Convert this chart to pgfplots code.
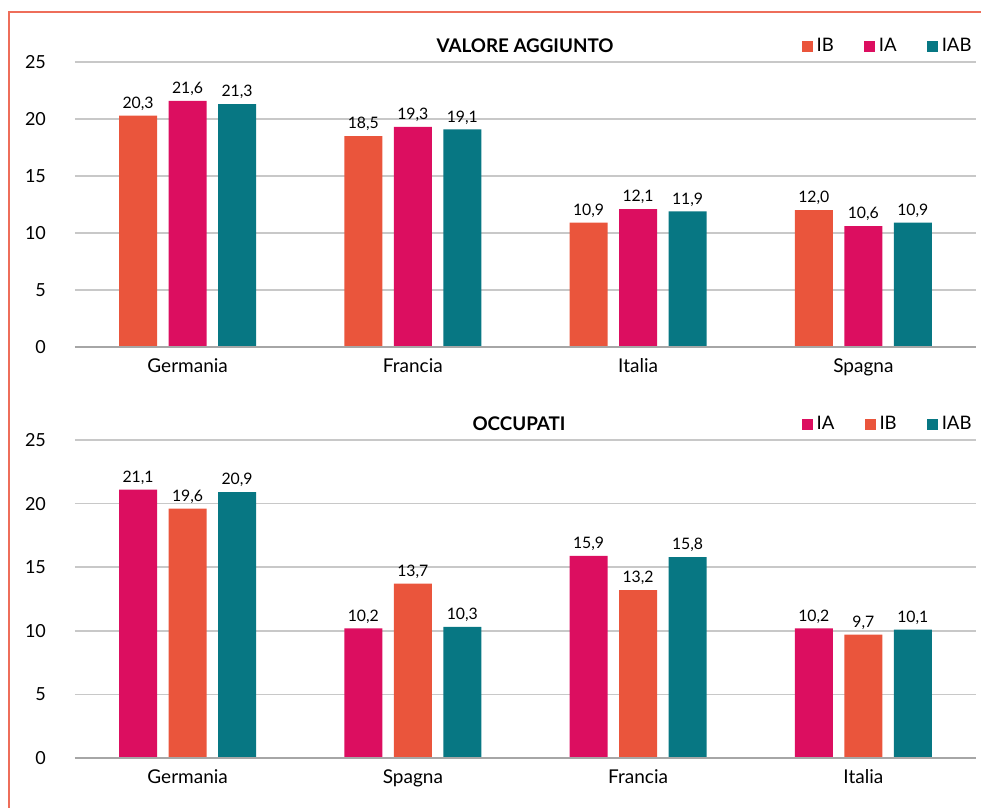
\documentclass[border=0pt]{standalone}
\usepackage{fontspec}
\setmainfont{Lato}
\usepackage{pgfplots}
\pgfplotsset{compat=1.18}
\definecolor{cIB}{RGB}{234,85,60}
\definecolor{cIA}{RGB}{220,14,96}
\definecolor{cIAB}{RGB}{7,119,131}
\definecolor{brd}{RGB}{238,110,90}
\definecolor{gridc}{RGB}{200,200,200}
\definecolor{zeroc}{RGB}{166,166,166}
\pgfplotsset{
  mybars/.style={
    scale only axis, width=450.5pt,
    xmin=-0.5, xmax=3.5, ymin=0, ymax=25,
    ytick={0,5,...,25},
    xtick={0,1,2,3},
    ybar=5.75pt, bar width=19pt,
    axis line style={draw=none},
    tick style={draw=none},
    ymajorgrids, grid style={color=gridc, line width=0.75pt},
    /pgf/number format/assume math mode=true,
    yticklabel style={font=\fontsize{9}{10}\selectfont, anchor=east, xshift=-11pt},
    xticklabel style={font=\fontsize{9.5}{10}\selectfont, yshift=2pt},
    nodes near coords={\pgfmathprintnumber[fixed,fixed zerofill,precision=1,use comma,assume math mode=true]{\pgfplotspointmeta}},
    nodes near coords style={font=\fontsize{7.9}{9}\selectfont, color=black, yshift=-1pt},
    clip=false,
    legend columns=3,
    legend image code/.code={\fill[##1] (0pt,-2.75pt) rectangle (5.5pt,2.75pt);},
    legend style={draw=none, fill=none, font=\fontsize{9.3}{10}\selectfont,
      anchor=east, inner sep=0pt,
      /tikz/every even column/.append style={column sep=13pt},
      nodes={inner sep=2pt}},
  }
}
\begin{document}
\begin{tikzpicture}
\useasboundingbox (0,0) rectangle (490.5pt,-404pt);
\draw[brd, line width=0.8pt] (4.5pt,-404pt) -- (4.5pt,-6pt) -- (490.5pt,-6pt);
% top chart
\begin{axis}[mybars, at={(37.5pt,-173.5pt)}, anchor=south west, height=142.5pt,
  xticklabels={Germania,Francia,Italia,Spagna},
  legend style={at={(1.0,1.056)}}]
\addplot[fill=cIB, draw=none] coordinates {(0,20.3) (1,18.5) (2,10.9) (3,12.0)};
\addplot[fill=cIA, draw=none] coordinates {(0,21.6) (1,19.3) (2,12.1) (3,10.6)};
\addplot[fill=cIAB, draw=none] coordinates {(0,21.3) (1,19.1) (2,11.9) (3,10.9)};
\legend{IB,IA,IAB}
\draw[zeroc, line width=0.75pt] (rel axis cs:0,0) -- (rel axis cs:1,0);
\end{axis}
\node[font=\bfseries\fontsize{9.4}{10}\selectfont] at (262.5pt,-23pt) {VALORE AGGIUNTO};
% bottom chart
\begin{axis}[mybars, at={(37.5pt,-379pt)}, anchor=south west, height=159pt,
  xticklabels={Germania,Spagna,Francia,Italia},
  legend style={at={(1.0,1.05)}}]
\addplot[fill=cIA, draw=none] coordinates {(0,21.1) (1,10.2) (2,15.9) (3,10.2)};
\addplot[fill=cIB, draw=none] coordinates {(0,19.6) (1,13.7) (2,13.2) (3,9.7)};
\addplot[fill=cIAB, draw=none] coordinates {(0,20.9) (1,10.3) (2,15.8) (3,10.1)};
\legend{IA,IB,IAB}
\draw[zeroc, line width=0.75pt] (rel axis cs:0,0) -- (rel axis cs:1,0);
\end{axis}
\node[font=\bfseries\fontsize{9.4}{10}\selectfont] at (259.5pt,-212pt) {OCCUPATI};
\end{tikzpicture}
\end{document}
